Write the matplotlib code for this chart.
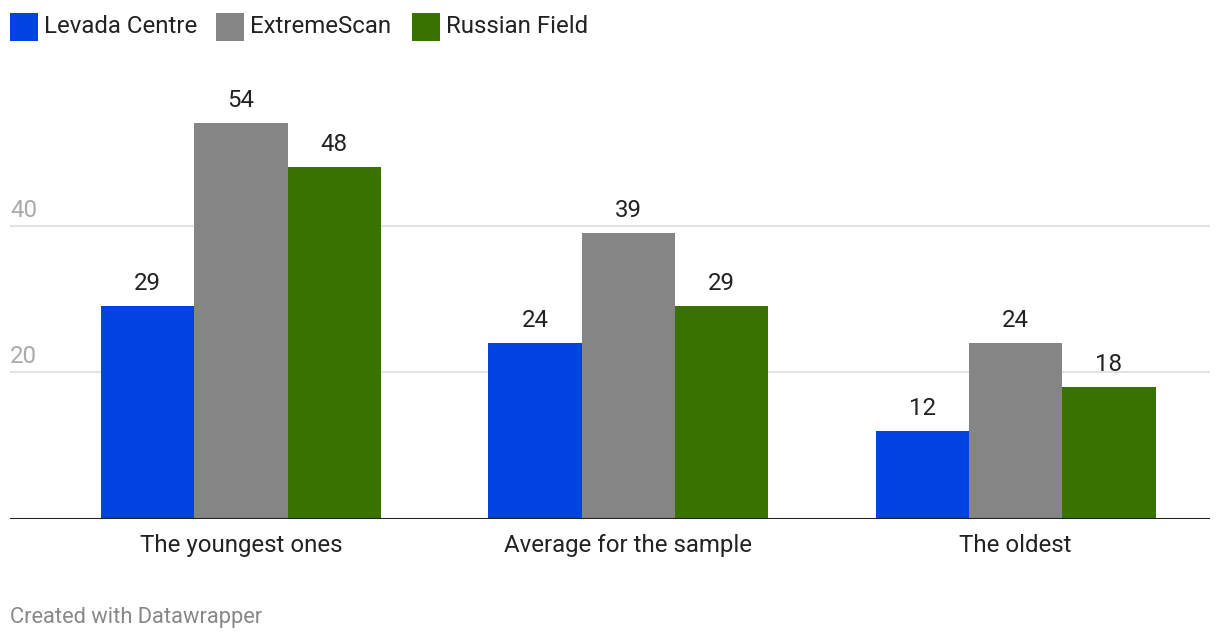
import numpy as np

import matplotlib
import matplotlib.pyplot as plt

from matplotlib.patches import Rectangle
from matplotlib.transforms import blended_transform_factory

matplotlib.use('Agg')

categories = ['The youngest ones', 'Average for the sample', 'The oldest']
series = ['Levada Centre', 'ExtremeScan', 'Russian Field']
levada = [29, 24, 12]
extreme = [54, 39, 24]
russian = [48, 29, 18]
y_ticks = [20, 40]

colours = ['#0143e2', '#858585', '#3a7200']


def main():
    plt.rcParams['font.family'] = ['Roboto', 'DejaVu Sans']

    W, H = 1220, 642
    fs = 17.3
    fig = plt.figure(figsize=(W / 100, H / 100), dpi=100)
    fig.patch.set_facecolor('white')

    ax = fig.add_axes([10 / W, 123 / H, 1200 / W, 440 / H])

    x = np.arange(len(categories))
    width = 0.241
    values = [levada, extreme, russian]

    for i, (vals, c) in enumerate(zip(values, colours)):
        pos = x + (i - 1) * width
        bars = ax.bar(pos, vals, width=width, color=c, linewidth=0, zorder=3)
        for b, v in zip(bars, vals):
            ax.annotate(
                f'{v}',
                (b.get_x() + b.get_width() / 2, v),
                textcoords='offset points',
                xytext=(0, 11.5),
                ha='center',
                va='baseline',
                fontsize=fs,
                color='#222222',
            )

    ax.set_xlim(-0.5964, 2.502)
    ax.set_ylim(0, 440 / 7.33)

    for t in y_ticks:
        ax.axhline(t, color='#e3e3e3', lw=1.5, zorder=1)
        ax.annotate(
            f'{t}',
            (0, t),
            xycoords=blended_transform_factory(ax.transAxes, ax.transData),
            textcoords='offset points',
            xytext=(0, 6.5),
            ha='left',
            va='baseline',
            fontsize=fs,
            color='#aaaaaa',
        )
    ax.axhline(0, color='#222222', lw=1.5, zorder=4)

    ax.set_yticks([])
    ax.set_xticks(x)
    ax.set_xticklabels(categories, fontsize=fs, color='#222222')
    ax.tick_params(axis='x', length=0, pad=11)
    for s in ax.spines.values():
        s.set_visible(False)

    # Legend across the top
    legend_x = [10, 216, 412]
    for name, c, lx in zip(series, colours, legend_x):
        fig.add_artist(Rectangle(
            (lx / W, (H - 41) / H), 28 / W, 28 / H,
            transform=fig.transFigure, color=c, lw=0,
        ))
        fig.text((lx + 34) / W, (H - 33) / H, name, fontsize=fs,
                 color='#222222', va='baseline', ha='left')

    fig.text(10 / W, (H - 623) / H, 'Created with Datawrapper',
             fontsize=15.75, color='#888888', va='baseline', ha='left')

    plt.savefig('out.png', dpi=100)


if __name__ == '__main__':
    main()
